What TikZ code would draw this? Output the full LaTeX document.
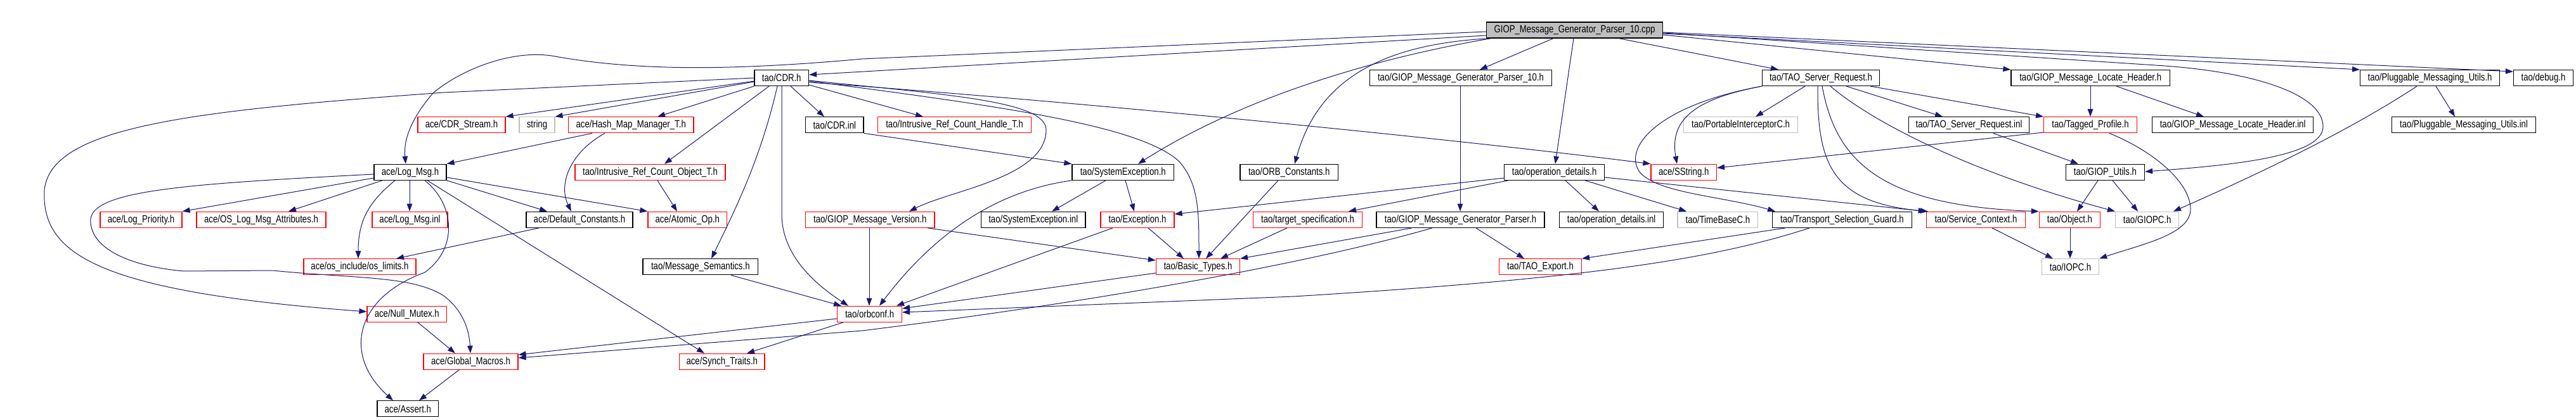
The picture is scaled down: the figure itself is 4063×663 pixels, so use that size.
\documentclass[tikz,border=0pt]{standalone}
\usepackage{fontspec}
\newfontfamily\dfont[FakeStretch=0.81]{Liberation Sans}
\usetikzlibrary{arrows.meta}
\definecolor{edgeblue}{HTML}{191970}
\definecolor{grayb}{HTML}{BFBFBF}
\tikzset{
 box/.style={draw, rectangle, minimum height=25pt, inner sep=0pt, line width=1.2pt, font=\dfont\fontsize{16.3}{18}\selectfont, text=black},
 doc/.style={box, draw=black},
 trunc/.style={box, draw=red},
 undoc/.style={box, draw=grayb},
 rootn/.style={box, draw=black, fill=grayb},
 edge/.style={draw=edgeblue, line width=1pt, -{Triangle[length=12pt,width=8.5pt]}},
}
\newcommand\gn[6]{\node[#1, minimum width={#4-#3}] (#2) at ({(#3+#4)/2},#5) {#6};}
\begin{document}
\begin{tikzpicture}[x=1pt,y=-1pt]
\useasboundingbox (0,0) rectangle (4063,663);
% row 0
\gn{rootn}{root}{2344.5}{2622.6}{47.5}{GIOP\_Message\_Generator\_Parser\_10.cpp}
% row 1
\gn{doc}{cdrh}{1190}{1275.5}{123}{tao/CDR.h}
\gn{doc}{gp10h}{2160.5}{2447.6}{123}{tao/GIOP\_Message\_Generator\_Parser\_10.h}
\gn{doc}{tsrh}{2779.4}{2964.6}{123}{tao/TAO\_Server\_Request.h}
\gn{doc}{glhh}{3172}{3422.4}{123}{tao/GIOP\_Message\_Locate\_Header.h}
\gn{doc}{pmuh}{3722.6}{3942.5}{123}{tao/Pluggable\_Messaging\_Utils.h}
\gn{doc}{debug}{3964.5}{4058.4}{123}{tao/debug.h}
% row 2
\gn{trunc}{cdrstream}{659}{797}{197.3}{ace/CDR\_Stream.h}
\gn{undoc}{string}{819}{875}{197.3}{string}
\gn{trunc}{hashmap}{896.5}{1094}{197.3}{ace/Hash\_Map\_Manager\_T.h}
\gn{doc}{cdrinl}{1270.6}{1362}{197.3}{tao/CDR.inl}
\gn{trunc}{irchandle}{1384.5}{1626.5}{197.3}{tao/Intrusive\_Ref\_Count\_Handle\_T.h}
\gn{undoc}{pic}{2655.6}{2835.6}{197.3}{tao/PortableInterceptorC.h}
\gn{doc}{tsrinl}{3010.6}{3200.4}{197.3}{tao/TAO\_Server\_Request.inl}
\gn{trunc}{tagged}{3223.6}{3370.4}{197.3}{tao/Tagged\_Profile.h}
\gn{doc}{glhinl}{3394.6}{3648.6}{197.3}{tao/GIOP\_Message\_Locate\_Header.inl}
\gn{doc}{pmuinl}{3772.5}{3999.6}{197.3}{tao/Pluggable\_Messaging\_Utils.inl}
% row 3
\gn{doc}{logmsg}{590}{704}{271.8}{ace/Log\_Msg.h}
\gn{trunc}{ircobj}{907}{1144}{271.8}{tao/Intrusive\_Ref\_Count\_Object\_T.h}
\gn{doc}{sysexh}{1691}{1851.5}{271.8}{tao/SystemException.h}
\gn{doc}{orbconst}{1956}{2110.5}{271.8}{tao/ORB\_Constants.h}
\gn{doc}{opdeth}{2372.6}{2530.6}{271.8}{tao/operation\_details.h}
\gn{trunc}{sstring}{2604}{2707.4}{271.8}{ace/SString.h}
\gn{doc}{giouth}{3258.4}{3382.5}{271.8}{tao/GIOP\_Utils.h}
% row 4
\gn{trunc}{logprio}{158}{287}{346.8}{ace/Log\_Priority.h}
\gn{trunc}{oslogattr}{310}{514}{346.8}{ace/OS\_Log\_Msg\_Attributes.h}
\gn{trunc}{logmsginl}{587}{706}{346.8}{ace/Log\_Msg.inl}
\gn{doc}{defconst}{830}{998}{346.8}{ace/Default\_Constants.h}
\gn{trunc}{atomic}{1022}{1146.5}{346.8}{ace/Atomic\_Op.h}
\gn{trunc}{gmver}{1270.6}{1474}{346.8}{tao/GIOP\_Message\_Version.h}
\gn{doc}{sysexinl}{1547.5}{1712}{346.8}{tao/SystemException.inl}
\gn{trunc}{exception}{1736}{1852}{346.8}{tao/Exception.h}
\gn{trunc}{target}{1976.5}{2148.5}{346.8}{tao/target\_specification.h}
\gn{doc}{gph}{2171}{2436}{346.8}{tao/GIOP\_Message\_Generator\_Parser.h}
\gn{doc}{opdetinl}{2459.6}{2623.5}{346.8}{tao/operation\_details.inl}
\gn{undoc}{timebase}{2646}{2772.7}{346.8}{tao/TimeBaseC.h}
\gn{doc}{tsg}{2795.4}{3015.5}{346.8}{tao/Transport\_Selection\_Guard.h}
\gn{trunc}{servctx}{3038.3}{3194.6}{346.8}{tao/Service\_Context.h}
\gn{trunc}{object}{3216.4}{3312.4}{346.8}{tao/Object.h}
\gn{undoc}{giopc}{3336.5}{3436.8}{346.8}{tao/GIOPC.h}
% row 5
\gn{trunc}{oslimits}{479}{656}{421.3}{ace/os\_include/os\_limits.h}
\gn{doc}{msgsem}{1014}{1195.6}{421.3}{tao/Message\_Semantics.h}
\gn{trunc}{basictypes}{1823.4}{1955.5}{421.3}{tao/Basic\_Types.h}
\gn{trunc}{taoexport}{2364.5}{2494.5}{421.3}{tao/TAO\_Export.h}
\gn{undoc}{iopc}{3220.4}{3310.6}{421.3}{tao/IOPC.h}
% row 6
\gn{trunc}{nullmutex}{579}{704.5}{495.8}{ace/Null\_Mutex.h}
\gn{trunc}{orbconf}{1320.6}{1422.5}{495.8}{tao/orbconf.h}
% row 7
\gn{trunc}{globalmacros}{668}{817}{570.8}{ace/Global\_Macros.h}
\gn{trunc}{synch}{1071.5}{1206}{570.8}{ace/Synch\_Traits.h}
% row 8
\gn{doc}{assert}{595}{691.5}{645.3}{ace/Assert.h}

% ---- edges from root
\draw[edge] (root.west |- 0,56) -- (cdrh.east |- 0,118);
\draw[edge] (root.west |- 0,50) -- (1360,93) .. controls (1150,112) and (1000,112) .. (870,88) .. controls (800,78) and (720,115) .. (683,147) .. controls (650,185) and (636,220) .. (logmsg.north -| 640,0);
\draw[edge] (root.south -| 2450,0) -- (gp10h.north -| 2334,0);
\draw[edge] (root.south -| 2482,0) -- (opdeth.north -| 2453,0);
\draw[edge] (root.south -| 2352,0) .. controls (2150,95) and (1950,160) .. (sysexh.north -| 1795,0);
\draw[edge] (root.south -| 2352,0) .. controls (2160,70) and (2075,140) .. (orbconst.north -| 2042,0);
\draw[edge] (root.south -| 2553,0) -- (tsrh.north -| 2805,0);
\draw[edge] (root.east |- 0,55) -- (glhh.north west);
\draw[edge] (root.east |- 0,53) -- (pmuh.north west);
\draw[edge] (root.east |- 0,51) -- (debug.west |- 0,113);
\draw[edge] (root.east |- 0,52) -- (3400,103) .. controls (3560,113) and (3664,150) .. (3664,200) .. controls (3664,250) and (3500,262) .. (giouth.east |- 0,271);
% ---- CDR.h
\draw[edge] (cdrh.west |- 0,128) -- (cdrstream.north east);
\draw[edge] (cdrh.west |- 0,129) -- (string.north east);
\draw[edge] (cdrh.south west) -- (hashmap.north -| 1037,0);
\draw[edge] (cdrh.south -| 1213,0) -- (ircobj.north -| 1048,0);
\draw[edge] (cdrh.south -| 1226,0) .. controls (1200,250) and (1160,330) .. (msgsem.north -| 1122,0);
\draw[edge] (cdrh.south -| 1233,0) -- (1233,340) .. controls (1234,400) and (1280,445) .. (orbconf.north -| 1338,0);
\draw[edge] (cdrh.south -| 1247,0) -- (cdrinl.north -| 1300,0);
\draw[edge] (cdrh.east |- 0,134) -- (irchandle.north -| 1456,0);
\draw[edge] (cdrh.east |- 0,127) .. controls (1500,150) and (1650,160) .. (1650,205) .. controls (1650,280) and (1500,300) .. (gmver.north -| 1434,0);
\draw[edge] (cdrh.east |- 0,128) .. controls (1600,170) and (1800,200) .. (1860,255) .. controls (1890,290) and (1891,330) .. (basictypes.north -| 1891,0);
\draw[edge] (cdrh.east |- 0,130) .. controls (1700,160) and (2300,220) .. (sstring.north west);
\draw[edge] (cdrh.west |- 0,123) -- (700,146) .. controls (300,175) and (80,200) .. (70,300) .. controls (65,400) and (150,460) .. (nullmutex.west |- 0,492);
% ---- Hash map, CDR.inl, Intrusive
\draw[edge] (hashmap.south -| 934,0) -- (logmsg.north east);
\draw[edge] (hashmap.south -| 954,0) .. controls (900,240) and (880,290) .. (defconst.north -| 901,0);
\draw[edge] (ircobj.south -| 1037,0) -- (atomic.north -| 1068,0);
\draw[edge] (cdrinl.south east) -- (sysexh.north west);
% ---- Log_Msg.h
\draw[edge] (logmsg.west |- 0,281) -- (logprio.north east);
\draw[edge] (logmsg.south -| 603,0) -- (oslogattr.north -| 455,0);
\draw[edge] (logmsg.south -| 646,0) -- (logmsginl.north -| 646,0);
\draw[edge] (logmsg.south -| 623,0) .. controls (580,320) and (565,350) .. (oslimits.north -| 565,0);
\draw[edge] (logmsg.west |- 0,275) .. controls (300,290) and (150,300) .. (143,345) .. controls (140,390) and (200,420) .. (290,428) -- (430,427) .. controls (560,440) and (650,435) .. (700,467) .. controls (730,490) and (740,520) .. (globalmacros.north -| 742,0);
\draw[edge] (logmsg.south east) -- (defconst.north -| 863,0);
\draw[edge] (logmsg.east |- 0,280) -- (atomic.north west);
\draw[edge] (logmsg.south -| 674,0) -- (synch.north -| 1111,0);
\draw[edge] (logmsg.south -| 670,0) .. controls (715,320) and (725,390) .. (670,430) .. controls (560,470) and (540,560) .. (assert.north -| 620,0);
% ---- lower left
\draw[edge] (defconst.south -| 850,0) -- (oslimits.north -| 625,0);
\draw[edge] (nullmutex.south -| 659,0) -- (globalmacros.north -| 718,0);
\draw[edge] (globalmacros.south -| 724,0) -- (assert.north -| 661,0);
\draw[edge] (orbconf.west |- 0,503) -- (globalmacros.east |- 0,560);
\draw[edge] (orbconf.south -| 1330,0) -- (synch.north -| 1178,0);
% ---- GIOP_Message_Generator_Parser
\draw[edge] (gp10h.south -| 2303,0) -- (gph.north -| 2303,0);
\draw[edge] (gph.south -| 2259,0) .. controls (2050,420) and (1700,480) .. (1360,522) -- (globalmacros.east |- 0,565);
\draw[edge] (gph.south -| 2227,0) -- (basictypes.north east);
\draw[edge] (gph.south -| 2328,0) -- (taoexport.north -| 2404,0);
% ---- Transport_Selection_Guard
\draw[edge] (tsg.south -| 2816,0) -- (taoexport.north east);
\draw[edge] (tsg.south -| 2854,0) .. controls (2700,410) and (2500,440) .. (2040,468) -- (orbconf.east |- 0,493);
% ---- into orbconf / Basic_Types
\draw[edge] (basictypes.west |- 0,431) -- (orbconf.east |- 0,487);
\draw[edge] (exception.south -| 1755,0) -- (orbconf.north -| 1414,0);
\draw[edge] (sysexh.south west) .. controls (1580,300) and (1480,360) .. (orbconf.north -| 1387,0);
\draw[edge] (gmver.south -| 1371,0) -- (orbconf.north -| 1371,0);
\draw[edge] (msgsem.south -| 1153,0) -- (orbconf.north -| 1327,0);
\draw[edge] (gmver.south -| 1463,0) -- (basictypes.west |- 0,411);
\draw[edge] (exception.south -| 1811,0) -- (basictypes.north -| 1867,0);
\draw[edge] (orbconst.south -| 2016,0) -- (basictypes.north -| 1902,0);
\draw[edge] (target.south -| 2030,0) -- (basictypes.north -| 1925,0);
\draw[edge] (sysexh.south -| 1744,0) -- (sysexinl.north -| 1659,0);
\draw[edge] (sysexh.south -| 1775,0) -- (exception.north -| 1789,0);
% ---- operation_details.h
\draw[edge] (opdeth.south -| 2379,0) -- (target.north -| 2127,0);
\draw[edge] (opdeth.west |- 0,281) -- (exception.east |- 0,338);
\draw[edge] (opdeth.south -| 2469,0) -- (opdetinl.north -| 2522,0);
\draw[edge] (opdeth.south -| 2500,0) -- (timebase.north -| 2660,0);
\draw[edge] (opdeth.east |- 0,280) -- (servctx.north west);
% ---- TAO_Server_Request.h
\draw[edge] (tsrh.south -| 2847,0) -- (pic.north -| 2769,0);
\draw[edge] (tsrh.south -| 2912,0) -- (tsrinl.north -| 3064,0);
\draw[edge] (tsrh.south -| 2950,0) -- (tagged.north west);
\draw[edge] (tsrh.south west) .. controls (2680,155) and (2632,185) .. (sstring.north -| 2645,0);
\draw[edge] (tsrh.south west) .. controls (2620,165) and (2560,230) .. (2585,270) .. controls (2610,305) and (2720,310) .. (tsg.north -| 2800,0);
\draw[edge] (tsrh.south -| 2867,0) .. controls (2866,260) and (2890,320) .. (servctx.north -| 3041,0);
\draw[edge] (tsrh.south -| 2874,0) .. controls (2895,250) and (2960,325) .. (object.north west);
\draw[edge] (tsrh.south -| 2887,0) .. controls (2950,190) and (3100,270) .. (giopc.north west);
% ---- right part
\draw[edge] (tsrinl.south -| 3144,0) -- (giouth.north -| 3278,0);
\draw[edge] (glhh.south -| 3297,0) -- (tagged.north -| 3297,0);
\draw[edge] (glhh.south -| 3338,0) -- (glhinl.north -| 3476,0);
\draw[edge] (tagged.west |- 0,209) -- (sstring.east |- 0,265);
\draw[edge] (tagged.south -| 3327,0) .. controls (3400,240) and (3455,290) .. (3455,330) .. controls (3455,370) and (3380,385) .. (iopc.north east);
\draw[edge] (giouth.south -| 3309,0) -- (object.north -| 3276,0);
\draw[edge] (giouth.south -| 3332,0) -- (giopc.north -| 3372,0);
\draw[edge] (object.south -| 3265,0) -- (iopc.north -| 3265,0);
\draw[edge] (servctx.south -| 3142,0) -- (iopc.north -| 3238,0);
\draw[edge] (pmuh.south -| 3842,0) -- (pmuinl.north -| 3872,0);
\draw[edge] (pmuh.south -| 3812,0) .. controls (3700,210) and (3550,280) .. (giopc.north -| 3428,0);
\end{tikzpicture}
\end{document}
